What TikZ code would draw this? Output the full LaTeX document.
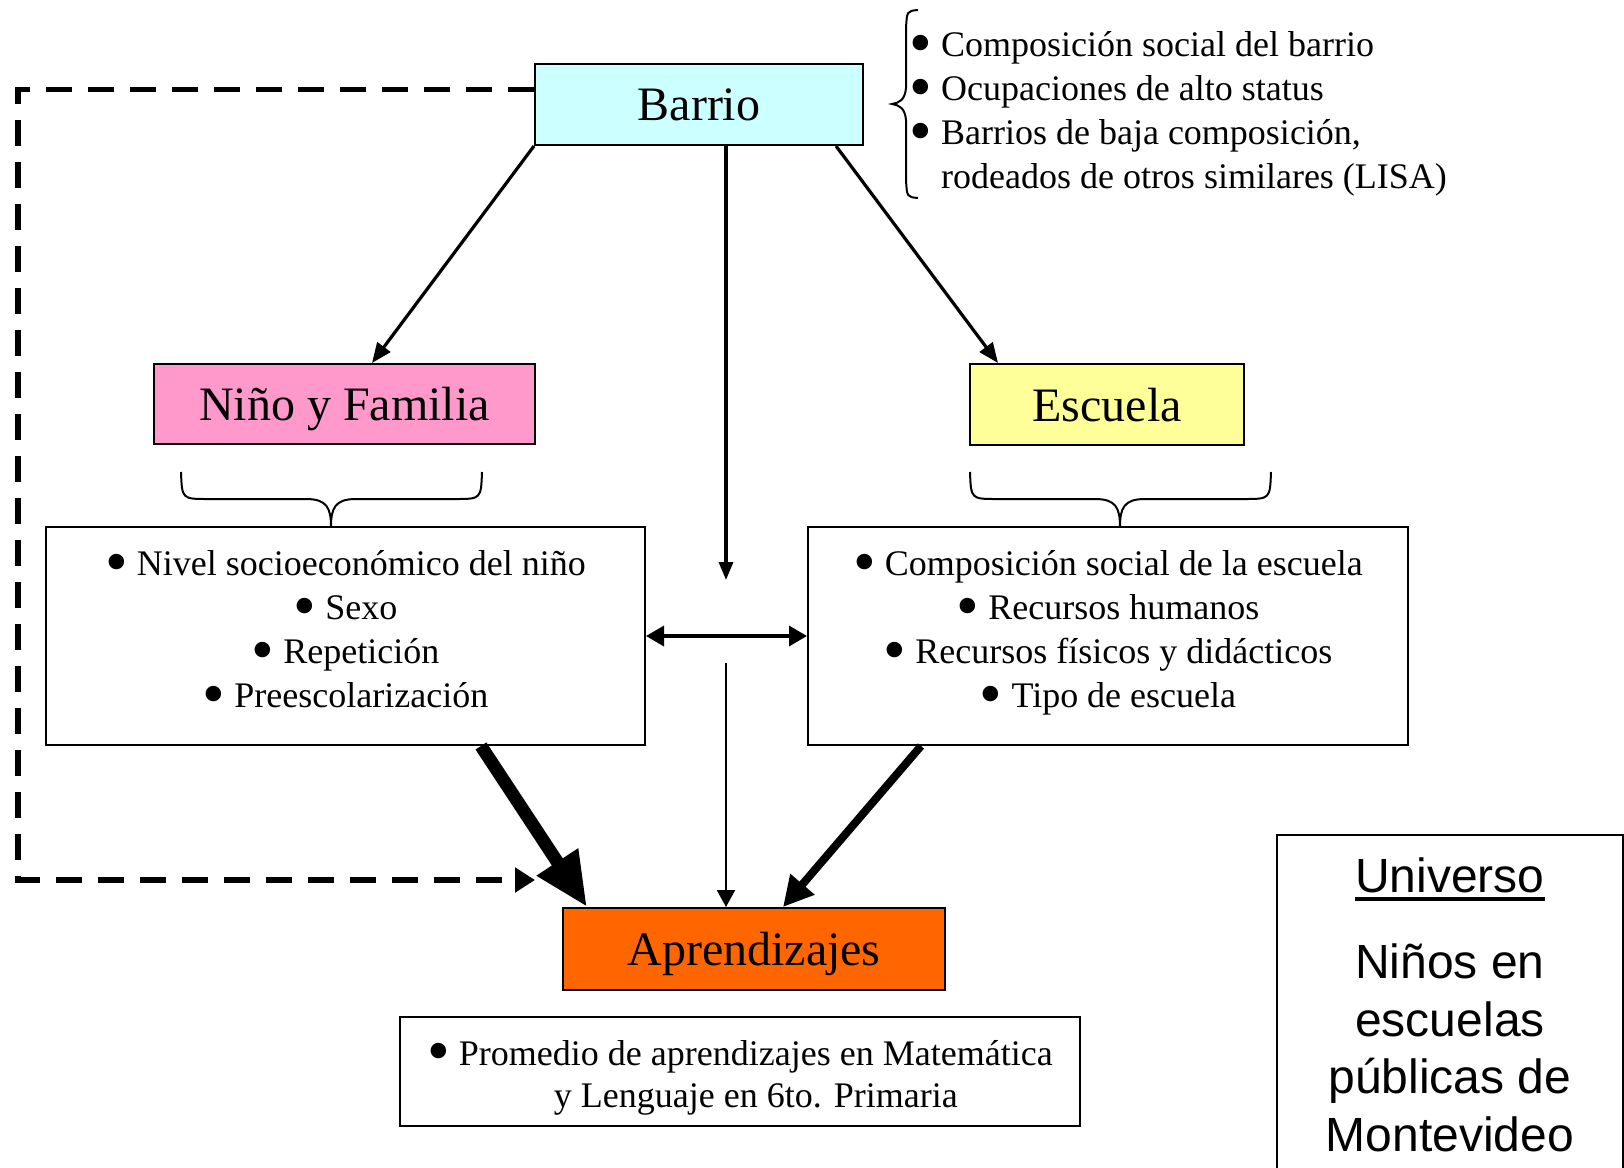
\documentclass[tikz,border=0pt]{standalone}
\usepackage{fontspec}
\setmainfont{Liberation Serif}
\newfontfamily\arialfont{Liberation Sans}
\usetikzlibrary{arrows.meta,calc}
\definecolor{barriocol}{HTML}{CCFFFF}
\definecolor{ninocol}{HTML}{FF99CC}
\definecolor{escuelacol}{HTML}{FFFF99}
\definecolor{aprendcol}{HTML}{FF6600}
\newcommand\bul{\raisebox{-0.22em}{\scalebox{1.8}{\textbullet}}}
\tikzset{
  titlebox/.style={draw, line width=1pt, inner sep=0pt, text depth=0pt, font=\fontsize{24pt}{28pt}\selectfont},
  listbox/.style={draw, line width=1pt, inner sep=0pt, align=center, font=\fontsize{18pt}{22pt}\selectfont},
  conn/.style={line width=1.6pt, -{Triangle[length=10pt,width=8pt]}},
  bracestyle/.style={line width=1pt},
  hbrace/.pic={\draw[bracestyle] (0,0) .. controls (1,27) .. (27,27) -- (125,27) .. controls (146,27) and (150,36) .. (150,55) .. controls (150,36) and (154,27) .. (175,27) -- (274,27) .. controls (300,27) .. (301,0);}
}
\begin{document}
\begin{tikzpicture}[x=0.5pt,y=-0.5pt]
\useasboundingbox (0,0) rectangle (1624,1168);
\fill[white] (0,0) rectangle (1624,1168);

% boxes
\node[titlebox, fill=barriocol, minimum width=164pt, minimum height=40.5pt] (barrio) at (699,104.5) {Barrio};
\node[titlebox, fill=ninocol, minimum width=190.5pt, minimum height=40pt] (nino) at (344.5,404) {Niño y Familia};
\node[titlebox, fill=escuelacol, minimum width=137pt, minimum height=40.5pt] (escuela) at (1107,404.5) {Escuela};
\node[listbox, minimum width=299.5pt, minimum height=109pt] (nfbox) at (345.5,636)
  {\bul\ Nivel socioeconómico del niño\\ \bul\ Sexo\\ \bul\ Repetición\\ \bul\ Preescolarización\rule[-7pt]{0pt}{7pt}};
\node[listbox, minimum width=300pt, minimum height=109pt] (escbox) at (1108,636)
  {\bul\ Composición social de la escuela\\ \bul\ Recursos humanos\\ \bul\ Recursos físicos y didácticos\\ \bul\ Tipo de escuela\rule[-7pt]{0pt}{7pt}};
\node[titlebox, fill=aprendcol, minimum width=191pt, minimum height=41pt] (aprend) at (754,949) {Aprendizajes};
\node[listbox, minimum width=340pt, minimum height=54.5pt, font=\fontsize{18pt}{21pt}\selectfont] (promedio) at (740,1071.5)
  {\rule{0pt}{18.5pt}\bul\ Promedio de aprendizajes en Matemática\\ \phantom{\bul\ }y Lenguaje en 6to. Primaria};

% barrio list
\node[anchor=north west, inner sep=0pt, align=left, font=\fontsize{18pt}{22pt}\selectfont] (barriolist) at (909,31)
  {\bul\ Composición social del barrio\\ \bul\ Ocupaciones de alto status\\ \bul\ Barrios de baja composición,\\ \phantom{\bul\ }rodeados de otros similares (LISA)};

% braces
\draw[bracestyle] (918,10) .. controls (907,11) .. (906,28) -- (906,88) .. controls (905,100) and (899,103) .. (892,104) .. controls (899,105) and (905,108) .. (906,120) -- (906,180) .. controls (907,197) .. (918,198);
\pic at (181,472) {hbrace};
\pic at (970,472) {hbrace};

% universo
\begin{scope}
\clip (0,0) rectangle (1624,1168);
\node[draw, line width=1pt, minimum width=173pt, minimum height=200pt, anchor=north west, inner sep=0pt] (universo) at (1276,834) {};
\end{scope}
\node[anchor=base, inner sep=0pt, font=\arialfont\fontsize{24pt}{28.5pt}\selectfont] (unititle) at (1450,892)
  {\setbox0\hbox{Universo}\rlap{\rule[-4.25pt]{\wd0}{1.6pt}}\box0};
\node[align=center, inner sep=0pt, font=\arialfont\fontsize{24pt}{28.75pt}\selectfont] (unitext) at (1450,1048)
  {Niños en\\ escuelas\\ públicas de\\ Montevideo};

% connectors
\coordinate (midtop) at (726,580);
\coordinate (midbot) at (726,663);
\coordinate (dashcorner) at (18,880);
\coordinate (dashend) at (535,880);
\draw[conn] (barrio.south west) -- ($(nino.north west)+(219,0)$);
\draw[line width=1.6pt, -{Triangle[length=9pt,width=7pt]}] ($(barrio.south)+(27,0)$) -- (midtop);
\draw[conn] ($(barrio.south east)+(-28,0)$) -- ($(escuela.north west)+(29,0)$);
\draw[line width=1.75pt, {Triangle[length=9pt,width=10pt]}-{Triangle[length=9pt,width=10pt]}] (nfbox.east) -- (escbox.west);
\draw[line width=1pt, -{Triangle[length=8.5pt,width=9pt]}] (midbot) -- (midbot |- aprend.north);
\draw[line width=6.5pt, -{Triangle[length=27pt,width=23pt]}] ($(nfbox.south west)+(436,0)$) -- ($(aprend.north west)+(25,0)$);
\draw[line width=4pt, -{Triangle[length=15pt,width=15pt]}] ($(escbox.south west)+(114,0)$) -- ($(aprend.north west)+(221,0)$);
\draw[line width=2.75pt, dash pattern=on 13pt off 8pt, -{Triangle[length=10pt,width=12pt]}]
  ($(barrio.north west)!0.32!(barrio.south west)$) -| (dashcorner) -- (dashend);
\end{tikzpicture}
\end{document}
